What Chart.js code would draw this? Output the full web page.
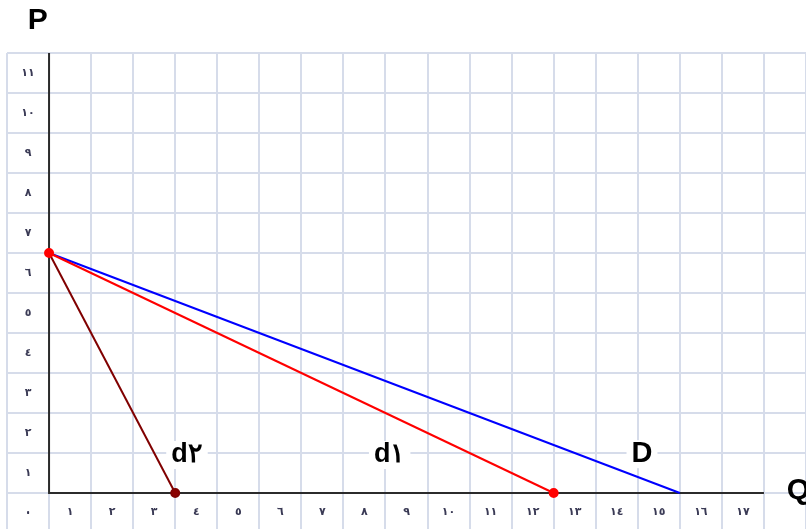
<!DOCTYPE html>
<html>
<head>
<meta charset="utf-8">
<script src="https://cdn.jsdelivr.net/npm/chart.js@4/dist/chart.umd.min.js"></script>
<style>
  html, body { margin: 0; padding: 0; background: #fff; }
  canvas { display: block; }
</style>
</head>
<body>
<canvas id="myChart" width="806" height="529"></canvas>
<script>
// tick labels (arabic-indic digits), each one sits in the cell left of / below its grid line
const xTickLabels = ['٠', '١', '٢', '٣', '٤', '٥', '٦', '٧', '٨', '٩', '١٠', '١١', '١٢', '١٣', '١٤', '١٥', '١٦', '١٧'];
const yTickLabels = ['٠', '١', '٢', '٣', '٤', '٥', '٦', '٧', '٨', '٩', '١٠', '١١'];

// demand lines: Q values and P values
const qD = [0, 15];
const pD = [6, 0];
const qD1 = [0, 12];
const pD1 = [6, 0];
const qD2 = [0, 3];
const pD2 = [6, 0];

// axis lines
const axisQ = [0, 0, 17];
const axisP = [11, 0, 0];

const toPoints = (qs, ps) => qs.map((q, i) => ({ x: q, y: ps[i] }));

const textLabels = [
  { text: 'd٢', x: 3.28, y: 0.95, size: 27, box: true },
  { text: 'd١', x: 8.1, y: 0.95, size: 27, box: true },
  { text: 'D', x: 14.1, y: 0.97, size: 29, box: true },
  { text: 'P', x: -0.27, y: 11.8, size: 30, box: false },
  { text: 'Q', x: 17.82, y: 0.05, size: 30, box: false },
];

const labelsPlugin = {
  id: 'labelsPlugin',
  afterDraw(chart) {
    const ctx = chart.ctx;
    const xs = chart.scales.x;
    const ys = chart.scales.y;
    ctx.save();
    ctx.fillStyle = '#3a3a55';
    ctx.font = 'bold 11px "DejaVu Sans"';
    ctx.textAlign = 'center';
    ctx.textBaseline = 'middle';
    xTickLabels.forEach((t, k) => {
      ctx.fillText(t, xs.getPixelForValue(k - 0.5), ys.getPixelForValue(-0.47));
    });
    yTickLabels.forEach((t, k) => {
      ctx.fillText(t, xs.getPixelForValue(-0.5), ys.getPixelForValue(k - 0.5));
    });
    for (const l of textLabels) {
      const px = xs.getPixelForValue(l.x);
      const py = ys.getPixelForValue(l.y);
      ctx.font = 'bold ' + l.size + 'px "Liberation Sans"';
      if (l.box) {
        const w = ctx.measureText(l.text).width;
        ctx.fillStyle = '#fff';
        ctx.fillRect(px - w / 2 - 5, py - 14, w + 10, 28);
      }
      ctx.fillStyle = '#000';
      ctx.fillText(l.text, px, py);
    }
    ctx.restore();
  },
};

const ctx = document.getElementById('myChart');

// eslint-disable-next-line no-undef
var chart = new Chart(ctx, { // eslint-disable-line no-unused-vars
  type: 'line',
  data: {
    datasets: [{
      label: 'd1',
      data: toPoints(qD1, pD1),
      borderColor: '#ff0000',
      backgroundColor: '#ff0000',
      borderWidth: 2,
      pointRadius: [4, 4],
    },
    {
      label: 'd2',
      data: toPoints(qD2, pD2),
      borderColor: '#800000',
      backgroundColor: '#8b0000',
      borderWidth: 2,
      pointRadius: [0, 4],
    },
    {
      label: 'D',
      data: toPoints(qD, pD),
      borderColor: '#0000ff',
      backgroundColor: '#0000ff',
      borderWidth: 2,
      pointRadius: 0,
    },
    {
      label: 'axes',
      data: toPoints(axisQ, axisP),
      borderColor: '#2b2b2b',
      borderWidth: 2,
      pointRadius: 0,
    }]
  },
  options: {
    responsive: false,
    animation: false,
    layout: {
      autoPadding: false,
      padding: { left: 7, top: 53, right: 0, bottom: 0 },
    },
    plugins: {
      legend: { display: false },
      tooltip: { enabled: false },
    },
    scales: {
      x: {
        type: 'linear',
        min: -1,
        max: 18,
        border: { display: false },
        grid: { color: '#d6dcea', lineWidth: 2, drawTicks: false },
        ticks: { display: false },
        afterBuildTicks: (s) => { s.ticks = Array.from({ length: 20 }, (_, i) => ({ value: i - 1 })); },
        afterFit: (s) => { s.height = 0; },
      },
      y: {
        type: 'linear',
        min: -0.9,
        max: 11,
        border: { display: false },
        grid: { color: '#d6dcea', lineWidth: 2, drawTicks: false },
        ticks: { display: false },
        afterBuildTicks: (s) => { s.ticks = Array.from({ length: 12 }, (_, i) => ({ value: i })); },
        afterFit: (s) => { s.width = 0; },
      },
    },
  },
  plugins: [labelsPlugin],
});
</script>
</body>
</html>
